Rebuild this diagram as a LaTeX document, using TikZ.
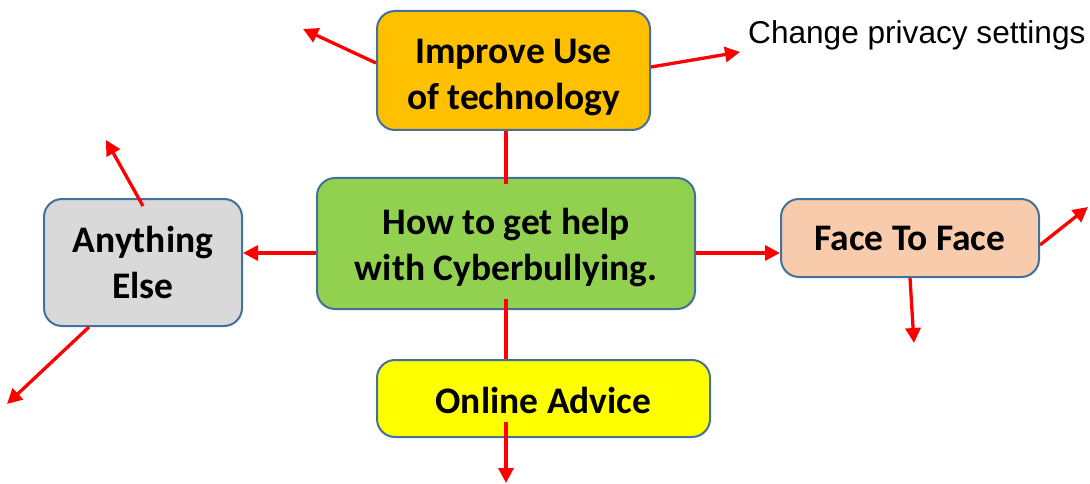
\documentclass[tikz,border=0pt]{standalone}
\usepackage{fontspec}
\setmainfont{Carlito}
\newfontfamily\arialfont{Liberation Sans}
\usetikzlibrary{arrows.meta}
\definecolor{borda}{HTML}{41719C}
\definecolor{ambar}{HTML}{FFC000}
\definecolor{verde}{HTML}{92D050}
\definecolor{cinza}{HTML}{D9D9D9}
\definecolor{pessego}{HTML}{F8CBAD}
\definecolor{amarelo}{HTML}{FFFF00}
\definecolor{vermelho}{HTML}{FF0000}
\newcommand{\escora}[1]{\rule{0pt}{#1}}

\begin{document}
\begin{tikzpicture}[x=1pt,y=-1pt,
    caixa/.style={draw=borda,line width=2pt,rounded corners=18pt,align=center,
      font=\fontsize{37.5}{46}\selectfont\bfseries,inner sep=0pt},
    ligacao/.style={draw=vermelho,line width=3.3pt},
    seta/.style={ligacao,-{Triangle[length=15pt,width=15pt]}}]
  \useasboundingbox (0,0) rectangle (1090,484);
  \node[caixa,fill=ambar,minimum width=273,minimum height=119] (melhorar) at (513.5,70.5) {\escora{38pt}Improve Use\\of technology};
  \node[caixa,fill=verde,minimum width=378,minimum height=131] (ajuda) at (506,243.5) {\escora{34pt}How to get help\\with Cyberbullying.};
  \node[caixa,fill=cinza,minimum width=198,minimum height=127] (outro) at (143,262.5) {Anything\\Else};
  \node[caixa,fill=pessego,minimum width=258,minimum height=78] (pessoal) at (910,238) {Face To Face};
  \node[caixa,fill=amarelo,minimum width=333,minimum height=77] (online) at (543.5,398.5) {\escora{30pt}Online Advice};
  \node[anchor=west,inner sep=0pt,font=\arialfont\fontsize{31.6}{36}\selectfont] (privacidade) at (748,35.5) {Change privacy settings};

  \coordinate (tronco) at (ajuda.south |- online.north);
  \coordinate (pontaA) at (303,29);
  \coordinate (pontaB) at (740,52);
  \coordinate (pontaC) at (106,140);
  \coordinate (pontaD) at (7,404);
  \coordinate (pontaE) at (1088,207);
  \coordinate (pontaF) at (914,343);
  \coordinate (pontaG) at (506,483);

  \draw[ligacao] ([yshift=-7pt]ajuda.north) -- (ajuda.north |- melhorar.south);
  \draw[ligacao] ([yshift=11pt]ajuda.south) -- (tronco);
  \draw[seta] ([yshift=7.5pt]melhorar.west) -- (pontaA);
  \draw[seta] ([yshift=3.5pt]melhorar.east) -- (pontaB);
  \draw[seta] ([yshift=-9.5pt]ajuda.west) -- ([yshift=-9.5pt]ajuda.west -| outro.east);
  \draw[seta] ([yshift=-9.5pt]ajuda.east) -- ([yshift=-9.5pt]ajuda.east -| pessoal.west);
  \draw[seta] ([yshift=-8pt]outro.north) -- (pontaC);
  \draw[seta] ([xshift=46pt]outro.south west) -- (pontaD);
  \draw[seta] ([yshift=-7pt]pessoal.east) -- (pontaE);
  \draw[seta] (pessoal.south) -- (pontaF);
  \draw[seta] ([yshift=-63pt]tronco) -- (pontaG);
\end{tikzpicture}
\end{document}
